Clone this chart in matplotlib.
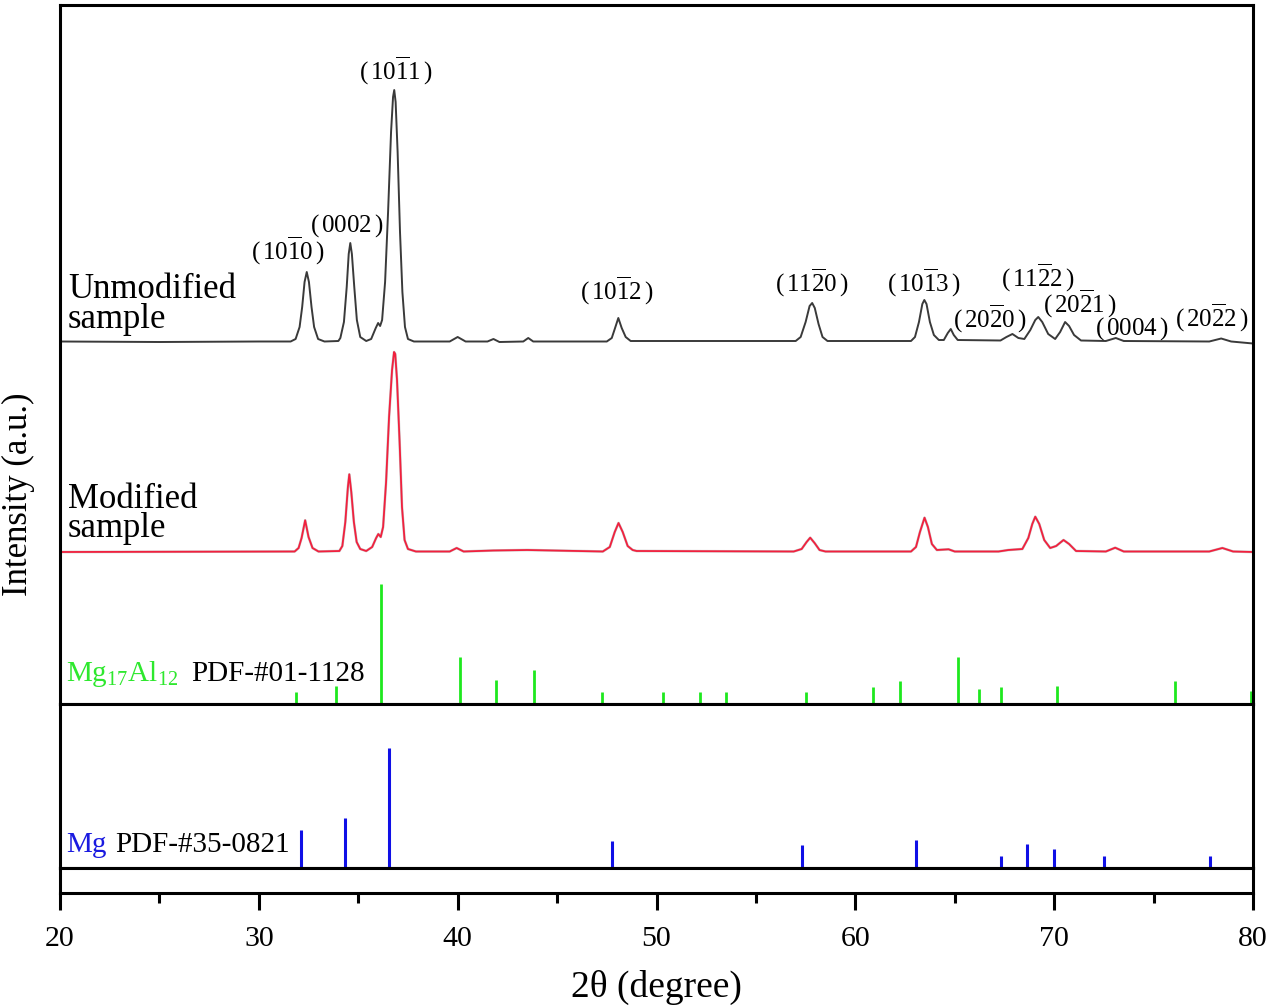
import matplotlib
matplotlib.use("Agg")
import matplotlib.pyplot as plt
from matplotlib.ticker import MultipleLocator

plt.rcParams['font.family'] = ['Liberation Serif', 'DejaVu Serif']
plt.rcParams['mathtext.fontset'] = 'custom'
plt.rcParams['mathtext.rm'] = 'Liberation Serif'
plt.rcParams['mathtext.it'] = 'Liberation Serif:italic'
plt.rcParams['mathtext.bf'] = 'Liberation Serif:bold'

# ---------------- data ----------------
# Unmodified sample: 2theta (deg) and intensity above its baseline (a.u.)
unmod_2theta = [20.0, 25.0, 30.0, 31.6, 31.85, 32.05, 32.18, 32.3, 32.41, 32.52, 32.65, 32.78, 32.98, 33.3,
                34.0, 34.1, 34.28, 34.42, 34.52, 34.6, 34.68, 34.8, 34.93, 35.1, 35.4,
                35.65, 35.88, 36.0, 36.1, 36.2, 36.35, 36.5, 36.65, 36.75, 36.81, 36.88, 36.98, 37.1,
                37.22, 37.35, 37.5, 37.8, 39.6, 40.0, 40.4, 41.5, 41.8, 42.1, 43.3, 43.55, 43.8,
                47.5, 47.75, 47.9, 48.08, 48.25, 48.45, 48.7,
                57.0, 57.25, 57.5, 57.7, 57.83, 57.96, 58.15, 58.35, 58.6,
                62.8, 63.0, 63.2, 63.37, 63.47, 63.58, 63.75, 63.95, 64.2, 64.45, 64.65, 64.8, 64.95, 65.15,
                67.3, 67.6, 67.9, 68.2, 68.5, 68.8, 69.05, 69.2, 69.4, 69.7, 70.05, 70.3, 70.55, 70.75,
                71.0, 71.35, 72.6, 73.1, 73.5, 77.8, 78.4, 78.9, 80.0]
unmod_int = [0.5, 0.0, 0.5, 0.5, 3, 15, 35, 60, 70, 60, 35, 15, 3, 0.5,
             1, 4, 20, 55, 88, 99, 88, 55, 22, 5, 1,
             3, 14, 19, 16, 22, 60, 130, 210, 245, 252, 240, 190, 110,
             50, 15, 3, 0.5, 0.5, 5, 0.5, 0.5, 3, 0, 0.5, 4, 0.5,
             0.5, 4, 13, 24, 14, 5, 1,
             1, 5, 20, 36, 39, 34, 18, 5, 1,
             1, 5, 20, 38, 42, 38, 20, 7, 2, 2, 9, 13, 7, 2,
             1.5, 5, 8, 4, 3, 12, 22, 25, 20, 8, 3, 10, 20, 16,
             7, 1.5, 1, 4, 1, 0.5, 3.5, 0.5, -1.5]

# Modified sample
mod_2theta = [20.0, 31.8, 32.0, 32.15, 32.33, 32.5, 32.7, 33.0,
              34.05, 34.2, 34.35, 34.48, 34.55, 34.65, 34.78, 34.92, 35.1, 35.4,
              35.7, 35.9, 36.01, 36.13, 36.25, 36.4, 36.55, 36.7, 36.8, 36.86, 36.95, 37.08, 37.2, 37.33,
              37.5, 37.9, 39.6, 39.95, 40.3, 41.8, 43.5, 47.3, 47.65, 47.9, 48.09, 48.3, 48.55, 48.8, 49.0,
              56.9, 57.3, 57.55, 57.73, 57.95, 58.2, 58.5,
              62.8, 63.05, 63.25, 63.48, 63.65, 63.85, 64.1, 64.69, 65.0,
              67.2, 67.7, 68.4, 68.7, 68.9, 69.05, 69.25, 69.5, 69.8, 70.1, 70.47, 70.75, 71.1,
              72.6, 73.07, 73.5, 77.8, 78.46, 79.0, 80.0]
mod_int = [0.0, 0.5, 4, 14, 31.7, 15, 4, 0.5,
           1, 6, 30, 65, 77.7, 60, 30, 10, 3, 1,
           5, 14, 18, 15, 25, 70, 135, 182, 200, 198, 172, 110, 45, 12,
           3, 0.5, 0.5, 4, 0.5, 1.5, 2, 0.5, 5, 20, 29, 20, 6, 2, 1,
           0.5, 3, 10, 14.3, 9, 2, 0.5,
           0.5, 5, 20, 34.3, 25, 8, 2, 2.7, 0.5,
           0.5, 2, 3, 14, 28, 35.3, 28, 12, 4, 6, 12, 8, 1,
           0.5, 4.3, 0.5, 0.5, 4, 0.5, 0.0]

sample_names = ["Unmodified\nsample", "Modified\nsample"]
sample_offsets = [362, 152]

# Mg17Al12 reference pattern PDF-#01-1128
mgal_2theta = [31.88, 33.86, 36.14, 40.10, 41.94, 43.85, 47.26, 50.33, 52.21, 53.52, 57.53,
               60.88, 62.24, 65.16, 66.22, 67.31, 70.16, 76.08, 79.90]
mgal_int = [11.7, 18.3, 120, 47.3, 24.3, 34, 12, 12, 12, 12, 12.3,
            16.6, 23.3, 47.3, 15, 16.6, 17.7, 22.7, 12.7]

# Mg reference pattern PDF-#35-0821
mg_2theta = [32.11, 34.34, 36.57, 47.78, 57.30, 63.04, 67.31, 68.65, 69.99, 72.51, 77.83]
mg_int = [38.3, 50, 120, 26.7, 23.3, 27.7, 12.3, 24.3, 19, 12.3, 12.3]

# Miller-Bravais indices of the Mg peaks
hkl_labels = [r'$(\,10\overline{1}0\,)$', r'$(\,0002\,)$', r'$(\,10\overline{1}1\,)$', r'$(\,10\overline{1}2\,)$',
              r'$(\,11\overline{2}0\,)$', r'$(\,10\overline{1}3\,)$', r'$(\,20\overline{2}0\,)$',
              r'$(\,11\overline{2}2\,)$', r'$(\,20\overline{2}1\,)$', r'$(\,0004\,)$', r'$(\,20\overline{2}2\,)$']
hkl_x = [31.48, 34.42, 36.89, 48.0, 57.81, 63.43, 66.78, 69.2, 71.31, 73.91, 77.93]
hkl_y = [444.3, 472.7, 624.3, 404.3, 412.7, 412.7, 376, 417.7, 391, 369.3, 377.7]

xticks = [20, 30, 40, 50, 60, 70, 80]

# ---------------- figure ----------------
W, H = 1270, 1006
fig = plt.figure(figsize=(W / 100, H / 100), dpi=100)
L = 60 / W
Wd = (1253 - 60) / W
ax_top = fig.add_axes([L, 1 - 704 / H, Wd, 699 / H])
ax_mid = fig.add_axes([L, 1 - 868 / H, Wd, 164 / H])
ax_bot = fig.add_axes([L, 1 - 893 / H, Wd, 25 / H])

spine_lw = 2.2
for ax in (ax_top, ax_mid, ax_bot):
    ax.set_xlim(20, 80)
    for s in ax.spines.values():
        s.set_linewidth(spine_lw)
    ax.set_yticks([])
ax_top.set_ylim(0, 699)
ax_mid.set_ylim(0, 164)
ax_bot.set_ylim(0, 1)
for ax in (ax_top, ax_mid):
    ax.tick_params(axis='x', which='both', bottom=False, labelbottom=False)

ax_bot.set_xticks(xticks)
ax_bot.xaxis.set_minor_locator(MultipleLocator(5))
ax_bot.tick_params(axis='x', which='major', direction='out', length=12.5, width=spine_lw,
                   labelsize=21.5, pad=11)
ax_bot.tick_params(axis='x', which='minor', direction='out', length=7, width=spine_lw)
ax_bot.set_xlabel('2θ (degree)', fontsize=27, labelpad=13)

# XRD curves
ax_top.plot(unmod_2theta, [v + sample_offsets[0] for v in unmod_int], color='#3a3a3a', lw=1.4)
ax_top.plot(mod_2theta, [v + sample_offsets[1] for v in mod_int], color='#666666', lw=1.9, alpha=0.35)
ax_top.plot(mod_2theta, [v + sample_offsets[1] for v in mod_int], color='#f2203e', lw=1.3)

# sample names (baseline of the last line)
name_y = [376, 167]
for name, y0 in zip(sample_names, name_y):
    ax_top.text(20.4, y0, name, fontsize=25, va='baseline', ha='left', color='black',
                linespacing=0.86)

# hkl labels
for lab, x, y in zip(hkl_labels, hkl_x, hkl_y):
    ax_top.text(x, y, lab, fontsize=18, ha='center', va='baseline')

# reference sticks
ax_top.vlines(mgal_2theta, 0, mgal_int, color='#1ee81e', lw=2.0)
ax_mid.vlines(mg_2theta, 0, mg_int, color='#1010e6', lw=2.2)

ax_top.text(20.3, 23, r'Mg$_{17}$Al$_{12}$', color='#2ee82e', fontsize=21, va='baseline', ha='left')
ax_top.text(26.62, 23, 'PDF-#01-1128', color='black', fontsize=21, va='baseline', ha='left')
ax_mid.text(20.3, 16.3, 'Mg', color='#1a1ae0', fontsize=21, va='baseline', ha='left')
ax_mid.text(22.77, 16.3, 'PDF-#35-0821', color='black', fontsize=21, va='baseline', ha='left')

fig.text(18 / W, 1 - 494 / H, 'Intensity (a.u.)', rotation=90, fontsize=25, ha='center', va='center')

fig.savefig('out.png', dpi=100)
